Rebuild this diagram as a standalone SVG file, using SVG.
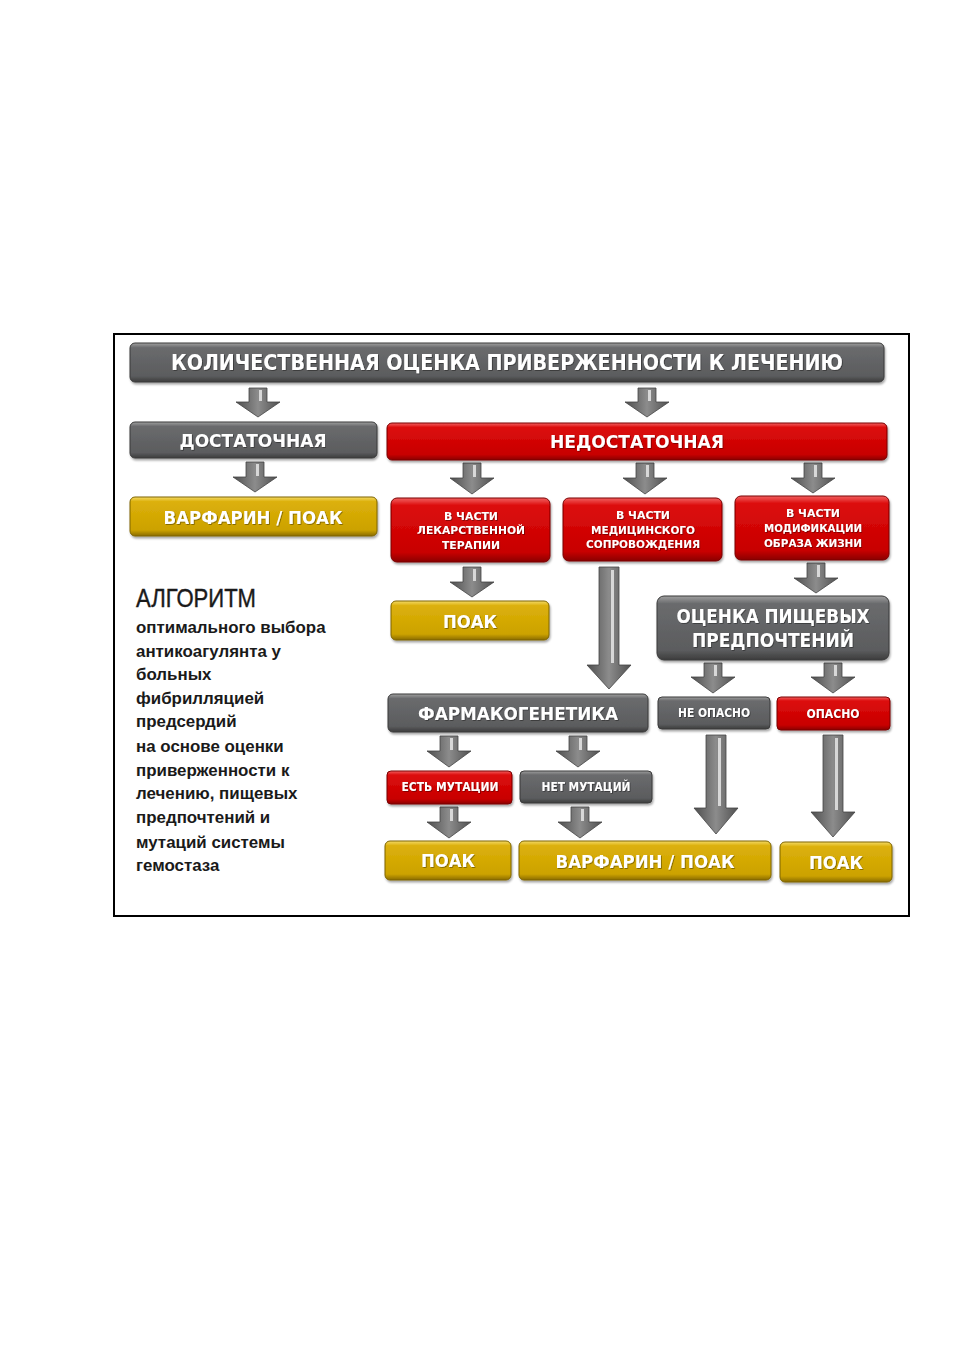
<svg xmlns="http://www.w3.org/2000/svg" width="954" height="1350" viewBox="0 0 954 1350">
<defs>
<linearGradient id="gGray" x1="0" y1="0" x2="0" y2="1">
<stop offset="0" stop-color="#a0a0a0"/><stop offset="0.12" stop-color="#6a6b6d"/><stop offset="0.85" stop-color="#5b5c5e"/><stop offset="1" stop-color="#3c3c3c"/>
</linearGradient>
<linearGradient id="gRed" x1="0" y1="0" x2="0" y2="1">
<stop offset="0" stop-color="#f26060"/><stop offset="0.12" stop-color="#dc0c0c"/><stop offset="0.85" stop-color="#c80000"/><stop offset="1" stop-color="#8a0000"/>
</linearGradient>
<linearGradient id="gGold" x1="0" y1="0" x2="0" y2="1">
<stop offset="0" stop-color="#f4da66"/><stop offset="0.12" stop-color="#dcb00a"/><stop offset="0.85" stop-color="#cca200"/><stop offset="1" stop-color="#8a6c00"/>
</linearGradient>
<linearGradient id="gArrow" x1="0" y1="0" x2="1" y2="0">
<stop offset="0" stop-color="#4e4e4e"/><stop offset="0.5" stop-color="#8c8c8c"/><stop offset="1" stop-color="#505050"/>
</linearGradient>
<filter id="sh" x="-10%" y="-20%" width="120%" height="150%">
<feDropShadow dx="1" dy="2" stdDeviation="1.2" flood-color="#000" flood-opacity="0.35"/>
</filter>
<filter id="tsh" x="-5%" y="-20%" width="110%" height="150%">
<feDropShadow dx="0.8" dy="0.8" stdDeviation="0.4" flood-color="#000" flood-opacity="0.45"/>
</filter>
<style>
.gray{fill:url(#gGray);stroke:#3a3a3a;stroke-width:1;filter:url(#sh)}
.red{fill:url(#gRed);stroke:#7a0000;stroke-width:1;filter:url(#sh)}
.gold{fill:url(#gGold);stroke:#7e6400;stroke-width:1;filter:url(#sh)}
.t{font-family:"DejaVu Sans","Liberation Sans",Arial,sans-serif;font-weight:bold;fill:#fff;text-anchor:middle;filter:url(#tsh)}
.arr{fill:url(#gArrow);stroke:#444;stroke-width:0.8}
.hl{fill:#e6e6e6;opacity:0.85}
.lt{font-family:"Liberation Sans",Arial,sans-serif;font-weight:bold;font-size:16.9px;fill:#1a1a1a}
</style>
</defs>
<rect x="114" y="334" width="795" height="582" fill="#fff" stroke="#000" stroke-width="2"/>

<g id="connectors">
<path class="arr" d="M249,388H267V402H280L258,417L236,402H249Z"/><rect class="hl" x="259" y="390" width="3" height="11"/>
<path class="arr" d="M638,388H656V402H669L647,417L625,402H638Z"/><rect class="hl" x="648" y="390" width="3" height="11"/>
<path class="arr" d="M246,462H264V477H277L255,492L233,477H246Z"/><rect class="hl" x="256" y="464" width="3" height="12"/>
<path class="arr" d="M463,463H481V478H494L472,494L450,478H463Z"/><rect class="hl" x="473" y="465" width="3" height="12"/>
<path class="arr" d="M636,463H654V478H667L645,494L623,478H636Z"/><rect class="hl" x="646" y="465" width="3" height="12"/>
<path class="arr" d="M804,463H822V478H835L813,493L791,478H804Z"/><rect class="hl" x="814" y="465" width="3" height="12"/>
<path class="arr" d="M463,567H481V582H494L472,597L450,582H463Z"/><rect class="hl" x="473" y="569" width="3" height="12"/>
<path class="arr" d="M599,567H619V665H631L609,689L587,665H599Z"/><rect class="hl" x="611" y="570" width="3" height="93"/>
<path class="arr" d="M807,563H825V578H838L816,593L794,578H807Z"/><rect class="hl" x="817" y="565" width="3" height="12"/>
<path class="arr" d="M704,663H722V677H735L713,693L691,677H704Z"/><rect class="hl" x="714" y="665" width="3" height="11"/>
<path class="arr" d="M824,663H842V677H855L833,693L811,677H824Z"/><rect class="hl" x="834" y="665" width="3" height="11"/>
<path class="arr" d="M440,736H458V751H471L449,767L427,751H440Z"/><rect class="hl" x="450" y="738" width="3" height="12"/>
<path class="arr" d="M569,736H587V751H600L578,767L556,751H569Z"/><rect class="hl" x="579" y="738" width="3" height="12"/>
<path class="arr" d="M706,735H726V808H738L716,834L694,808H706Z"/><rect class="hl" x="718" y="738" width="3" height="68"/>
<path class="arr" d="M823,735H843V812H855L833,837L811,812H823Z"/><rect class="hl" x="835" y="738" width="3" height="72"/>
<path class="arr" d="M440,807H458V822H471L449,838L427,822H440Z"/><rect class="hl" x="450" y="809" width="3" height="12"/>
<path class="arr" d="M571,807H589V822H602L580,838L558,822H571Z"/><rect class="hl" x="581" y="809" width="3" height="12"/>
</g>

<g id="n-title"><rect class="gray" x="130" y="343" width="754" height="39" rx="5"/>
<text class="t" x="507" y="370" font-size="22" textLength="672" lengthAdjust="spacingAndGlyphs">КОЛИЧЕСТВЕННАЯ ОЦЕНКА ПРИВЕРЖЕННОСТИ К ЛЕЧЕНИЮ</text></g>

<g id="n-dost"><rect class="gray" x="130" y="422" width="247" height="36" rx="5"/>
<text class="t" x="253" y="447" font-size="18.5" textLength="147" lengthAdjust="spacingAndGlyphs">ДОСТАТОЧНАЯ</text></g>

<g id="n-nedost"><rect class="red" x="387" y="423" width="500" height="37" rx="5"/>
<text class="t" x="637" y="448" font-size="18.5" textLength="174" lengthAdjust="spacingAndGlyphs">НЕДОСТАТОЧНАЯ</text></g>

<g id="n-warf1"><rect class="gold" x="130" y="497" width="247" height="39" rx="5"/>
<text class="t" x="253" y="524" font-size="18.5" textLength="179" lengthAdjust="spacingAndGlyphs">ВАРФАРИН / ПОАК</text></g>

<g id="n-lek"><rect class="red" x="391" y="498" width="159" height="64" rx="6"/>
<text class="t" x="471" y="520" font-size="11" textLength="54" lengthAdjust="spacingAndGlyphs">В ЧАСТИ</text>
<text class="t" x="471" y="534" font-size="11" textLength="108" lengthAdjust="spacingAndGlyphs">ЛЕКАРСТВЕННОЙ</text>
<text class="t" x="471" y="549" font-size="11" textLength="58" lengthAdjust="spacingAndGlyphs">ТЕРАПИИ</text></g>

<g id="n-med"><rect class="red" x="563" y="498" width="159" height="63" rx="6"/>
<text class="t" x="643" y="519" font-size="11" textLength="54" lengthAdjust="spacingAndGlyphs">В ЧАСТИ</text>
<text class="t" x="643" y="534" font-size="11" textLength="104" lengthAdjust="spacingAndGlyphs">МЕДИЦИНСКОГО</text>
<text class="t" x="643" y="548" font-size="11" textLength="114" lengthAdjust="spacingAndGlyphs">СОПРОВОЖДЕНИЯ</text></g>

<g id="n-mod"><rect class="red" x="735" y="496" width="154" height="64" rx="6"/>
<text class="t" x="813" y="517" font-size="11" textLength="54" lengthAdjust="spacingAndGlyphs">В ЧАСТИ</text>
<text class="t" x="813" y="532" font-size="11" textLength="98" lengthAdjust="spacingAndGlyphs">МОДИФИКАЦИИ</text>
<text class="t" x="813" y="547" font-size="11" textLength="98" lengthAdjust="spacingAndGlyphs">ОБРАЗА ЖИЗНИ</text></g>

<g id="n-poak1"><rect class="gold" x="391" y="601" width="158" height="39" rx="5"/>
<text class="t" x="470" y="628" font-size="18.5" textLength="54" lengthAdjust="spacingAndGlyphs">ПОАК</text></g>

<g id="n-ocenka"><rect class="gray" x="657" y="596" width="232" height="64" rx="7"/>
<text class="t" x="773" y="623" font-size="19.5" textLength="193" lengthAdjust="spacingAndGlyphs">ОЦЕНКА ПИЩЕВЫХ</text>
<text class="t" x="773" y="647" font-size="19.5" textLength="162" lengthAdjust="spacingAndGlyphs">ПРЕДПОЧТЕНИЙ</text></g>

<g id="n-farm"><rect class="gray" x="388" y="694" width="260" height="38" rx="5"/>
<text class="t" x="518" y="720" font-size="17.5" textLength="200" lengthAdjust="spacingAndGlyphs">ФАРМАКОГЕНЕТИКА</text></g>

<g id="n-neopasno"><rect class="gray" x="658" y="697" width="112" height="32" rx="4"/>
<text class="t" x="714" y="717" font-size="11.5" textLength="72" lengthAdjust="spacingAndGlyphs">НЕ ОПАСНО</text></g>

<g id="n-opasno"><rect class="red" x="777" y="697" width="113" height="33" rx="4"/>
<text class="t" x="833" y="718" font-size="11.5" textLength="53" lengthAdjust="spacingAndGlyphs">ОПАСНО</text></g>

<g id="n-est"><rect class="red" x="387" y="771" width="125" height="33" rx="4"/>
<text class="t" x="450" y="791" font-size="11.5" textLength="97" lengthAdjust="spacingAndGlyphs">ЕСТЬ МУТАЦИИ</text></g>

<g id="n-net"><rect class="gray" x="520" y="771" width="132" height="32" rx="4"/>
<text class="t" x="586" y="791" font-size="11.5" textLength="89" lengthAdjust="spacingAndGlyphs">НЕТ МУТАЦИЙ</text></g>

<g id="n-poak2"><rect class="gold" x="385" y="841" width="126" height="39" rx="5"/>
<text class="t" x="448" y="867" font-size="18.5" textLength="54" lengthAdjust="spacingAndGlyphs">ПОАК</text></g>

<g id="n-warf2"><rect class="gold" x="519" y="841" width="252" height="39" rx="5"/>
<text class="t" x="645" y="868" font-size="18.5" textLength="179" lengthAdjust="spacingAndGlyphs">ВАРФАРИН / ПОАК</text></g>

<g id="n-poak3"><rect class="gold" x="780" y="842" width="112" height="40" rx="5"/>
<text class="t" x="836" y="869" font-size="18.5" textLength="54" lengthAdjust="spacingAndGlyphs">ПОАК</text></g>

<g id="caption">
<text x="136" y="607" font-family="Liberation Sans, Arial, sans-serif" font-size="25" fill="#1a1a1a" stroke="#1a1a1a" stroke-width="0.4" textLength="120" lengthAdjust="spacingAndGlyphs">АЛГОРИТМ</text>
<text class="lt" x="136" y="633">оптимального выбора</text>
<text class="lt" x="136" y="657">антикоагулянта у</text>
<text class="lt" x="136" y="680">больных</text>
<text class="lt" x="136" y="704">фибрилляцией</text>
<text class="lt" x="136" y="727">предсердий</text>
<text class="lt" x="136" y="752">на основе оценки</text>
<text class="lt" x="136" y="776">приверженности к</text>
<text class="lt" x="136" y="799">лечению, пищевых</text>
<text class="lt" x="136" y="823">предпочтений и</text>
<text class="lt" x="136" y="848">мутаций системы</text>
<text class="lt" x="136" y="871">гемостаза</text>
</g>
</svg>
